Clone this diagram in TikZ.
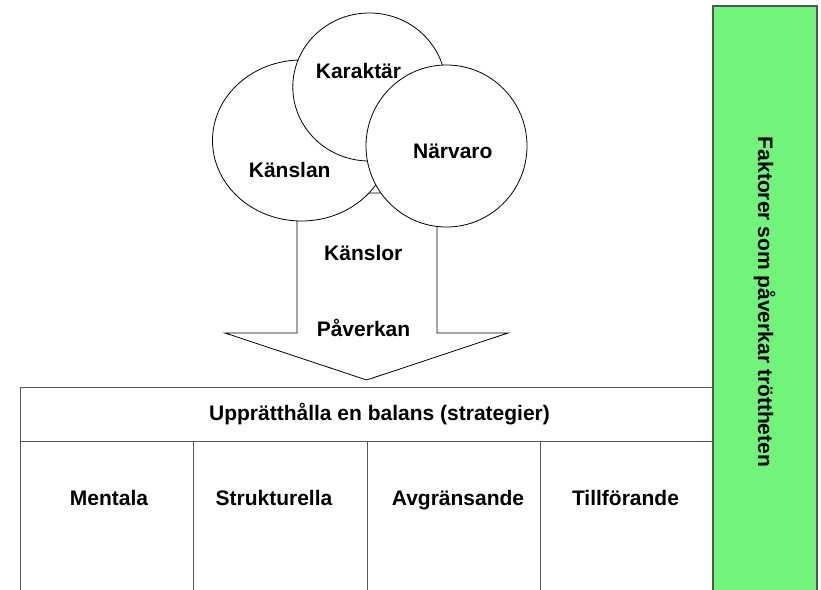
\documentclass[tikz,border=0pt]{standalone}
\usepackage{fontspec}
\setmainfont{Liberation Sans}
\usetikzlibrary{shapes.geometric}
\definecolor{factorgreen}{RGB}{112,244,122}
\definecolor{gridline}{RGB}{85,85,85}
\begin{document}
\begin{tikzpicture}[x=1pt,y=-1pt,
  lbl/.style={font=\fontsize{21}{25}\selectfont\bfseries, inner sep=0pt, anchor=base},
  bubble/.style={ellipse, draw=black, fill=white, line width=0.8pt, inner sep=0pt},
  outline/.style={draw=black, fill=white, line width=0.8pt},
  cell/.style={rectangle, draw=gridline, line width=1pt, inner sep=0pt},
  sidebar/.style={rectangle, draw=gridline, fill=factorgreen, line width=1.3pt, inner sep=0pt}]
\clip (0,0) rectangle (821,589);
\fill[white] (0,0) rectangle (821,589);

% big downward arrow (drawn first, the bubbles cover its top)
\coordinate (a1) at (297,193);
\coordinate (a2) at (297,333);
\coordinate (a3) at (225,333);
\coordinate (tip) at (366.7,380);
\coordinate (a5) at (508,333);
\coordinate (a6) at (437,333);
\coordinate (a7) at (437,193);
\draw[outline] (a1) -- (a2) -- (a3) -- (tip) -- (a5) -- (a6) -- (a7) -- cycle;

% overlapping bubbles
\node[bubble, minimum width=178pt, minimum height=161pt] (kanslanb) at (301.5,140.5) {};
\node[bubble, minimum width=153pt, minimum height=148pt] (karaktarb) at (369.3,87) {};
\node[bubble, minimum width=161pt, minimum height=162pt] (narvarob) at (446.5,146) {};

\node[lbl] (karaktar) at (358.5,78.3) {Karaktär};
\node[lbl] (narvaro) at (452.8,158.3) {Närvaro};
\node[lbl] (kanslan) at (289.7,177.7) {Känslan};
\node[lbl] (kanslor) at (363.3,260.7) {Känslor};
\node[lbl] (paverkan) at (363.5,336) {Påverkan};

% strategy table
\node[cell, minimum width=693pt, minimum height=54pt] (head) at (366.5,414) {};
\node[cell, minimum width=173.5pt, minimum height=200pt] (c1) at (106.75,541) {};
\node[cell, minimum width=173.5pt, minimum height=200pt] (c2) at (280.25,541) {};
\node[cell, minimum width=173.5pt, minimum height=200pt] (c3) at (453.75,541) {};
\node[cell, minimum width=173.5pt, minimum height=200pt] (c4) at (627.25,541) {};

\node[lbl] (headtxt) at (379.5,420) {Upprätthålla en balans (strategier)};
\node[lbl] (mentala) at (109,505) {Mentala};
\node[lbl] (strukturella) at (274,505) {Strukturella};
\node[lbl] (avgransande) at (458,505) {Avgränsande};
\node[lbl] (tillforande) at (625.5,505) {Tillförande};

% side bar
\node[sidebar, minimum width=104pt, minimum height=620pt] (bar) at (765,316) {};
\node[lbl, anchor=center, rotate=-90] (bartxt) at (764.5,302) {Faktorer som påverkar tröttheten};
\end{tikzpicture}
\end{document}
